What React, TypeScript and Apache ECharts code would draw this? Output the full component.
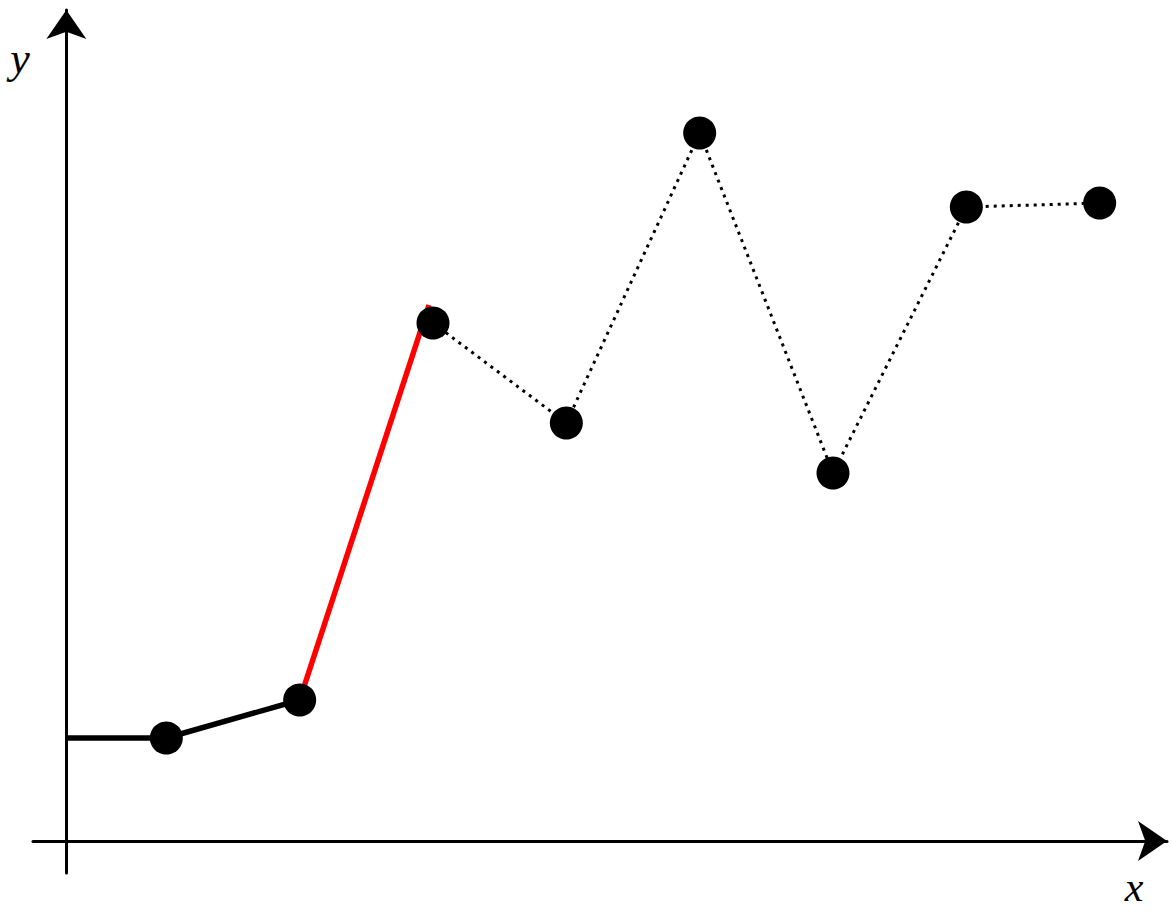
import React, { useEffect, useRef } from "react";
import * as echarts from "echarts";

// Horizontal positions of the sample points
const xs = [0.75, 1.75, 2.75, 3.75, 4.75, 5.75, 6.75, 7.75];
// Vertical values of the sample points
const ys = [1.03, 1.41, 5.18, 4.18, 7.08, 3.68, 6.34, 6.38];

// Solid black lead-in: from the y-axis to the second point
const solidPath: [number, number][] = [
  [0, 1.03],
  [0.75, 1.03],
  [1.75, 1.41],
];
// Red steep segment
const redPath: [number, number][] = [
  [1.75, 1.41],
  [2.72, 5.36],
];
// Dotted continuation through the remaining points
const dottedIdx = [2, 3, 4, 5, 6, 7];

const xLabel = "x";
const yLabel = "y";

export default function App() {
  const ref = useRef<HTMLDivElement>(null);

  useEffect(() => {
    if (!ref.current) return;
    const chart = echarts.init(ref.current, null, { renderer: "svg" });

    const points = xs.map((x, i) => [x, ys[i]]);
    const dotted = dottedIdx.map((i) => [xs[i], ys[i]]);

    const axisLine = {
      show: true,
      onZero: true,
      symbol: ["none", "arrow"],
      symbolSize: [30, 29],
      lineStyle: { color: "#000", width: 3 },
    };

    chart.setOption({
      animation: false,
      backgroundColor: "#fff",
      grid: { left: 33, top: 10, width: 1134, height: 863, containLabel: false },
      xAxis: {
        type: "value",
        min: -0.25,
        max: 8.255,
        axisLine,
        axisTick: { show: false },
        axisLabel: { show: false },
        splitLine: { show: false },
      },
      yAxis: {
        type: "value",
        min: -0.32,
        max: 8.31,
        axisLine,
        axisTick: { show: false },
        axisLabel: { show: false },
        splitLine: { show: false },
      },
      graphic: [
        {
          type: "text",
          x: 1134,
          y: 887,
          style: {
            text: xLabel,
            font: "italic 42px 'Liberation Serif'",
            lineHeight: 30,
            fill: "#000",
            textAlign: "center",
            textVerticalAlign: "middle",
          },
        },
        {
          type: "text",
          x: 20,
          y: 58,
          style: {
            text: yLabel,
            font: "italic 44px 'Liberation Serif'",
            lineHeight: 32,
            fill: "#000",
            textAlign: "center",
            textVerticalAlign: "middle",
          },
        },
      ],
      series: [
        {
          type: "line",
          data: solidPath,
          symbol: "none",
          lineStyle: { color: "#000", width: 5.5 },
          z: 2,
        },
        {
          type: "line",
          data: redPath,
          symbol: "none",
          lineStyle: { color: "#ff0000", width: 5.5 },
          z: 2,
        },
        {
          type: "line",
          data: dotted,
          symbol: "none",
          lineStyle: { color: "#000", width: 3, type: [3, 5] },
          z: 2,
        },
        {
          type: "scatter",
          data: points,
          symbol: "circle",
          symbolSize: 33,
          itemStyle: { color: "#000", opacity: 1 },
          z: 3,
        },
      ],
    });

    return () => chart.dispose();
  }, []);

  return (
    <div
      ref={ref}
      style={{ position: "absolute", left: 0, top: 0, width: 1172, height: 913 }}
    />
  );
}
